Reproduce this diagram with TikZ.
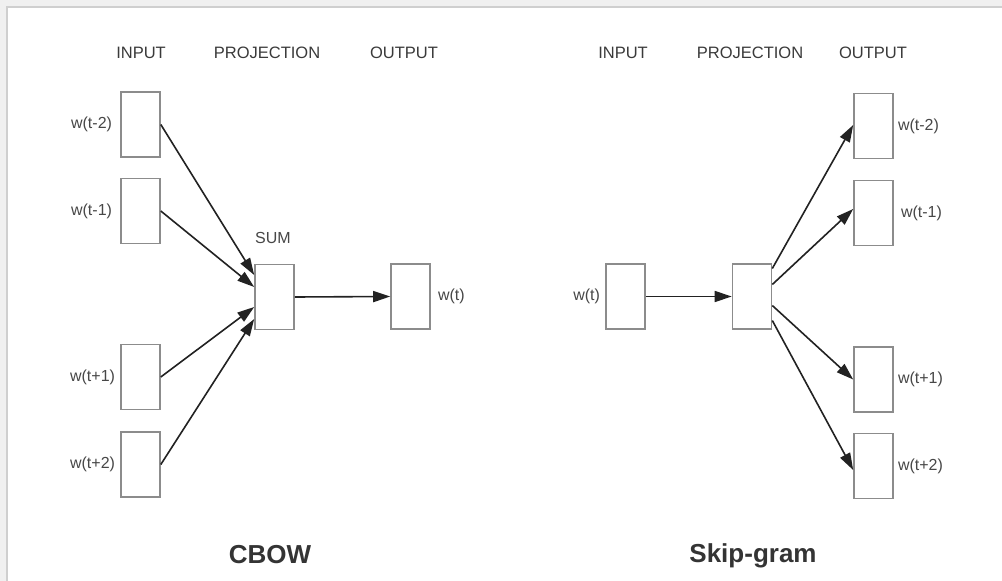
\documentclass[tikz,border=0pt]{standalone}
\usepackage{fontspec}
\setmainfont{Liberation Sans}
\usetikzlibrary{arrows.meta}
\definecolor{framebg}{HTML}{F0F0F0}
\definecolor{frameline}{HTML}{CFCFCF}
\definecolor{boxline}{HTML}{8C8C8C}
\definecolor{arrowcol}{HTML}{222222}
\definecolor{headcol}{HTML}{3A3A3A}
\definecolor{labelcol}{HTML}{474747}
\tikzset{
  unit/.style={draw=boxline, line width=1.6pt, fill=white, minimum width=39pt, minimum height=65pt, inner sep=0pt},
  header/.style={text=headcol, font=\fontsize{16.5}{18}\selectfont, inner sep=0pt},
  wlabel/.style={text=labelcol, font=\fontsize{16}{18}\selectfont, inner sep=0pt},
  title/.style={text=headcol!90!black, font=\fontsize{26}{30}\selectfont\bfseries, inner sep=0pt},
  link/.style={draw=arrowcol, line width=1.6pt, -{Triangle[length=17pt,width=11pt]}}
}
\begin{document}
\begin{tikzpicture}[x=1pt, y=-1pt]
  \useasboundingbox (0,0) rectangle (1002,581);
  \clip (0,0) rectangle (1002,581);
  % page frame
  \fill[framebg] (0,0) rectangle (1002,581);
  \filldraw[fill=white, draw=frameline, line width=1.2pt] (7,7) rectangle (1010,590);

  % ---------------- CBOW ----------------
  \node[header] (hinL)   at (141,53) {INPUT};
  \node[header] (hprojL) at (267,53) {PROJECTION};
  \node[header] (houtL)  at (404,53) {OUTPUT};

  \node[unit] (in1) at (140.5,124.5) {};
  \node[unit] (in2) at (140.5,211) {};
  \node[unit] (in3) at (140.5,377) {};
  \node[unit] (in4) at (140.5,464.5) {};
  \node[unit] (sum) at (274.5,297) {};
  \node[unit] (out) at (410.5,296.5) {};

  \node[wlabel, anchor=east] (lin1) at ([xshift=-8pt]in1.west) {w(t-2)};
  \node[wlabel, anchor=east] (lin2) at ([xshift=-8pt]in2.west) {w(t-1)};
  \node[wlabel, anchor=east] (lin3) at ([xshift=-5pt]in3.west) {w(t+1)};
  \node[wlabel, anchor=east] (lin4) at ([xshift=-5pt]in4.west) {w(t+2)};
  \node[wlabel] (lsum) at (273,238) {SUM};
  \node[wlabel, anchor=west] (lout) at ([xshift=7pt]out.east) {w(t)};

  \draw[link] (in1.east) -- ([yshift=22pt]sum.west);
  \draw[link] (in2.east) -- ([yshift=10pt]sum.west);
  \draw[link] (in3.east) -- ([yshift=-10pt]sum.west);
  \draw[link] (in4.east) -- ([yshift=-22pt]sum.west);
  \draw[link] (sum.east) -- (out.west);

  \node[title] (tcbow) at (270,555) {CBOW};

  % ---------------- Skip-gram ----------------
  \node[header] (hinR)   at (623,53) {INPUT};
  \node[header] (hprojR) at (750,53) {PROJECTION};
  \node[header] (houtR)  at (873,53) {OUTPUT};

  \node[unit] (win)  at (625.5,296.5) {};
  \node[unit] (proj) at (752,296.5) {};
  \node[unit] (o1) at (873.5,126) {};
  \node[unit] (o2) at (873.5,213) {};
  \node[unit] (o3) at (873.5,379.5) {};
  \node[unit] (o4) at (873.5,466) {};

  \node[wlabel, anchor=east] (lwin) at ([xshift=-5pt]win.west) {w(t)};
  \node[wlabel, anchor=west] (lo1) at ([xshift=4pt]o1.east) {w(t-2)};
  \node[wlabel, anchor=west] (lo2) at ([xshift=7pt]o2.east) {w(t-1)};
  \node[wlabel, anchor=west] (lo3) at ([xshift=4pt]o3.east) {w(t+1)};
  \node[wlabel, anchor=west] (lo4) at ([xshift=4pt]o4.east) {w(t+2)};

  \draw[link] (win.east) -- (proj.west);
  \draw[link] ([yshift=28pt]proj.east) -- ([yshift=1pt]o1.west);
  \draw[link] ([yshift=12pt]proj.east) -- ([yshift=4pt]o2.west);
  \draw[link] ([yshift=-9pt]proj.east) -- (o3.west);
  \draw[link] ([yshift=-24pt]proj.east) -- ([yshift=-4pt]o4.west);

  \node[title] (tskip) at (753,556) {Skip-gram};
\end{tikzpicture}
\end{document}
